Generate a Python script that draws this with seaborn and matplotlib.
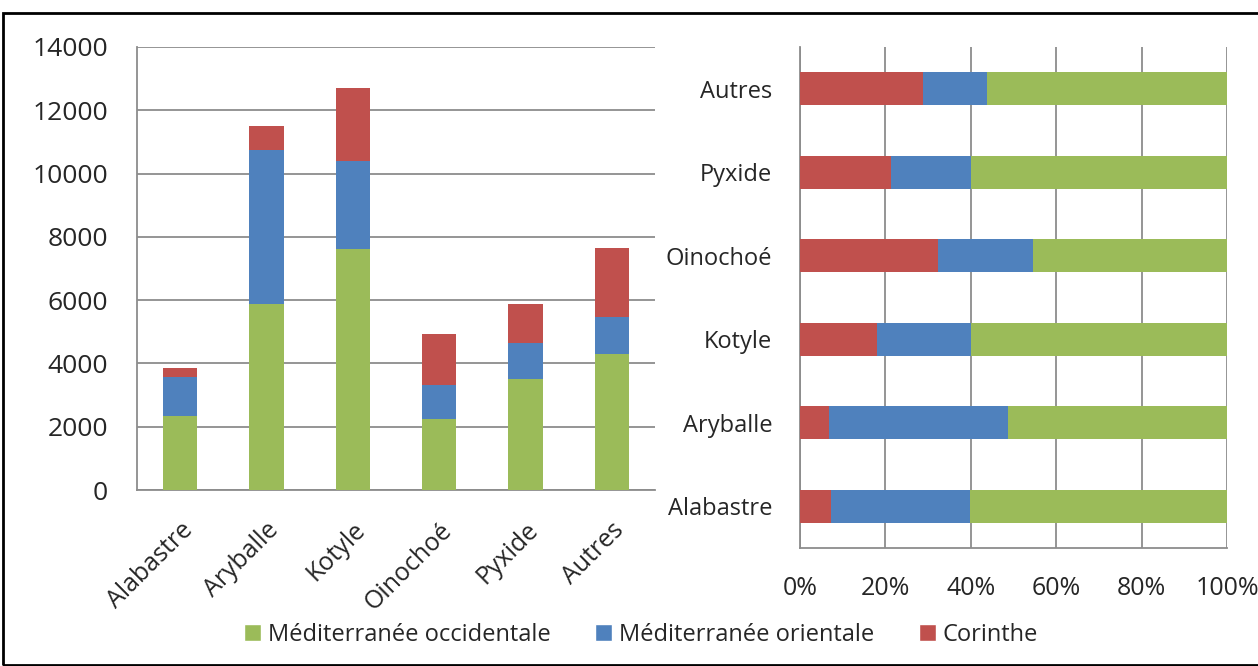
import numpy as np
import pandas as pd
import matplotlib
matplotlib.use("Agg")
import matplotlib.pyplot as plt
from matplotlib.patches import Patch, Rectangle
from matplotlib.ticker import FixedLocator, PercentFormatter
import seaborn as sns

# données
cats = ["Alabastre", "Aryballe", "Kotyle", "Oinochoé", "Pyxide", "Autres"]
occidentale = [2330, 5890, 7620, 2230, 3520, 4310]
orientale = [1250, 4840, 2770, 1100, 1110, 1150]
corinthe = [285, 770, 2300, 1590, 1250, 2200]
series = ["Méditerranée occidentale", "Méditerranée orientale", "Corinthe"]
colors = ["#9BBB59", "#4F81BD", "#C0504D"]

sns.set_style("white")
plt.rcParams['font.family'] = ['Open Sans', 'DejaVu Sans']
grid_c = "#8c8c8c"
fs = 17

df = pd.DataFrame({"cat": cats, "occ": occidentale, "ori": orientale, "cor": corinthe})
df["c1"] = df["occ"]
df["c2"] = df["occ"] + df["ori"]
df["c3"] = df["c2"] + df["cor"]
tot = df["c3"]
# pourcentages (ordre Corinthe, orientale, occidentale depuis la gauche)
df["p1"] = df["cor"] / tot * 100
df["p2"] = (df["cor"] + df["ori"]) / tot * 100
df["p3"] = 100.0

W, H = 1258, 666
fig = plt.figure(figsize=(W / 100, H / 100), dpi=100)
ax1 = fig.add_axes([137 / W, (H - 490) / H, (655 - 137) / W, (490 - 47) / H])
ax2 = fig.add_axes([800 / W, (H - 548) / H, (1227 - 800) / W, (548 - 47) / H])

# barres empilées (gauche)
for col, c in zip(["c3", "c2", "c1"], colors[::-1]):
    sns.barplot(data=df, x="cat", y=col, color=c, width=0.4, saturation=1,
                ax=ax1, order=cats, zorder=3, linewidth=0)
ax1.set_ylim(0, 14000)
ax1.set_xlim(-0.5, 5.5)
ax1.set_yticks(range(0, 14001, 2000))
ax1.yaxis.grid(True, color=grid_c, lw=1.3, zorder=0)
ax1.set_xlabel("")
ax1.set_ylabel("")
ax1.xaxis.set_minor_locator(FixedLocator(np.arange(-0.5, 6, 1)))
ax1.tick_params(axis="x", which="major", length=0, pad=20, labelsize=18)
ax1.tick_params(axis="x", which="minor", length=8, color=grid_c, width=1.3, direction="out")
ax1.tick_params(axis="y", length=9, color=grid_c, width=1.3, pad=12, labelsize=19, direction="out")
ax1.set_xticks(range(len(cats)))
ax1.set_xticklabels(cats, rotation=45, ha="right", rotation_mode="anchor")
for s in ["top", "right"]:
    ax1.spines[s].set_visible(False)
for s in ["left", "bottom"]:
    ax1.spines[s].set_color(grid_c)
    ax1.spines[s].set_linewidth(1.3)

# barres 100 % (droite)
for col, c in zip(["p3", "p2", "p1"], colors):
    sns.barplot(data=df, x=col, y="cat", color=c, width=0.39, saturation=1,
                ax=ax2, order=cats[::-1], orient="h", zorder=3, linewidth=0)
ax2.set_xlim(0, 100)
ax2.set_ylim(5.5, -0.5)
ax2.set_xticks(range(0, 101, 20))
ax2.xaxis.set_major_formatter(PercentFormatter(decimals=0))
ax2.xaxis.grid(True, color=grid_c, lw=1.3, zorder=0)
ax2.set_xlabel("")
ax2.set_ylabel("")
ax2.yaxis.set_minor_locator(FixedLocator(np.arange(-0.5, 6, 1)))
ax2.tick_params(axis="y", which="major", length=0, pad=20, labelsize=fs)
ax2.tick_params(axis="y", which="minor", length=8, color=grid_c, width=1.3, direction="out")
ax2.tick_params(axis="x", length=8, color=grid_c, width=1.3, pad=12, labelsize=18, direction="out")
for s in ["top", "right"]:
    ax2.spines[s].set_visible(False)
for s in ["left", "bottom"]:
    ax2.spines[s].set_color(grid_c)
    ax2.spines[s].set_linewidth(1.3)

# légende
handles = [Patch(facecolor=c, label=l) for c, l in zip(colors, series)]
fig.legend(handles=handles, loc="center", bbox_to_anchor=(641 / W, (H - 635) / H),
           ncol=3, frameon=False, fontsize=fs, handlelength=0.7, handleheight=0.7,
           handletextpad=0.3, columnspacing=1.9)

# cadre
fig.patches.append(Rectangle((3 / W, 1 / H), 1.2, (H - 14) / H, transform=fig.transFigure,
                             fill=False, edgecolor="black", lw=2))

fig.savefig("out.png", dpi=100)
